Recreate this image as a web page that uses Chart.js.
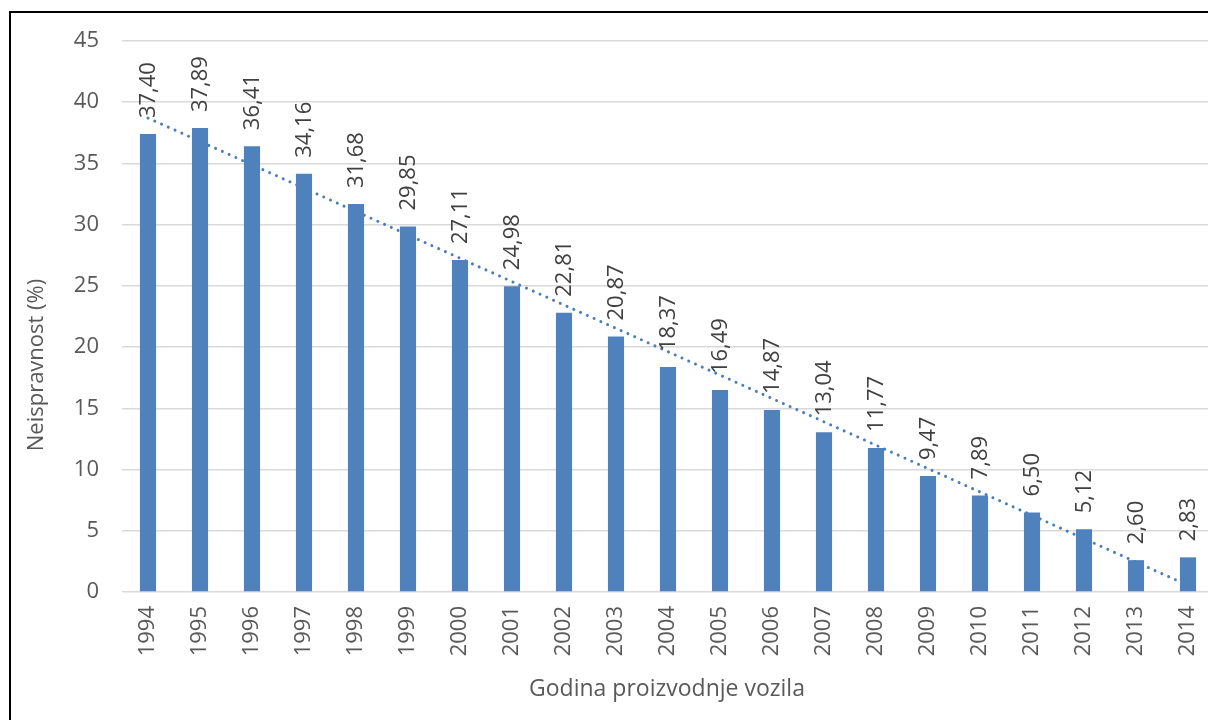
<!DOCTYPE html>
<html>
<head>
<meta charset="utf-8">
<script src="https://cdn.jsdelivr.net/npm/chart.js@4.4.1/dist/chart.umd.min.js"></script>
<style>
  html, body { margin: 0; padding: 0; background: #fff; overflow: hidden; width: 1208px; height: 720px; }
  #wrap { position: absolute; left: 0; top: 0; width: 1214px; height: 720px; }
  #frame { position: absolute; left: 9px; top: 11px; width: 1300px; height: 800px; border-left: 2px solid #000; border-top: 2px solid #000; pointer-events: none; }
</style>
</head>
<body>
<div id="wrap"><canvas id="c" width="1214" height="720"></canvas></div>
<div id="frame"></div>
<script>
const categories = ['1994','1995','1996','1997','1998','1999','2000','2001','2002','2003','2004','2005','2006','2007','2008','2009','2010','2011','2012','2013','2014'];
const defectRate = [37.40,37.89,36.41,34.16,31.68,29.85,27.11,24.98,22.81,20.87,18.37,16.49,14.87,13.04,11.77,9.47,7.89,6.50,5.12,2.60,2.83];
// linear trendline end values
const trendStart = 38.71;
const trendEnd = 0.54;
const trendData = categories.map((c, i) => i === 0 ? trendStart : (i === categories.length - 1 ? trendEnd : null));
const yTitle = 'Neispravnost (%)';
const xTitle = 'Godina proizvodnje vozila';

const FONT = "'Open Sans', 'DejaVu Sans', sans-serif";

const labelPlugin = {
  id: 'barLabels',
  afterDatasetsDraw(chart) {
    const meta = chart.getDatasetMeta(0);
    const ctx = chart.ctx;
    ctx.save();
    ctx.font = '22px ' + FONT;
    ctx.fillStyle = '#404040';
    ctx.textAlign = 'left';
    ctx.textBaseline = 'middle';
    meta.data.forEach((bar, i) => {
      const txt = defectRate[i].toFixed(2).replace('.', ',');
      ctx.save();
      ctx.translate(bar.x + 1, bar.y - 16);
      ctx.rotate(-Math.PI / 2);
      ctx.fillText(txt, 0, 0);
      ctx.restore();
    });
    // axis titles
    ctx.fillStyle = '#595959';
    ctx.textAlign = 'center';
    ctx.textBaseline = 'middle';
    ctx.font = '22px ' + FONT;
    ctx.save();
    ctx.translate(37, 365);
    ctx.rotate(-Math.PI / 2);
    ctx.fillText(yTitle, 0, 0);
    ctx.restore();
    ctx.font = '23px ' + FONT;
    ctx.fillText(xTitle, 667, 689);
    ctx.restore();
  }
};

new Chart(document.getElementById('c'), {
  data: {
    labels: categories,
    datasets: [
      {
        type: 'bar',
        data: defectRate,
        backgroundColor: '#4F81BD',
        barPercentage: 0.31,
        categoryPercentage: 1,
        order: 1
      },
      {
        type: 'line',
        data: trendData,
        spanGaps: true,
        borderColor: '#4A7EBB',
        borderWidth: 3,
        borderDash: [0.01, 7.4],
        borderCapStyle: 'round',
        pointRadius: 0,
        fill: false,
        tension: 0,
        order: 2
      }
    ]
  },
  options: {
    responsive: false,
    animation: false,
    devicePixelRatio: 1,
    layout: { padding: { left: 0, right: 0, top: 41, bottom: 0 } },
    plugins: { legend: { display: false }, tooltip: { enabled: false } },
    scales: {
      x: {
        type: 'category',
        offset: true,
        grid: { display: false, drawTicks: false },
        border: { display: false },
        ticks: {
          color: '#595959',
          font: { family: FONT, size: 22 },
          minRotation: 90,
          maxRotation: 90,
          padding: 14,
          autoSkip: false
        },
        afterFit(scale) { scale.height = 128; scale.paddingRight = 0; scale.paddingLeft = 0; }
      },
      y: {
        min: 0,
        max: 45,
        ticks: {
          stepSize: 5,
          color: '#595959',
          font: { family: FONT, size: 22 },
          padding: 23
        },
        grid: { color: '#D9D9D9', lineWidth: 1.5, drawTicks: false },
        border: { display: false },
        afterFit(scale) { scale.width = 122; scale.paddingTop = 0; scale.paddingBottom = 0; }
      }
    }
  },
  plugins: [labelPlugin]
});
</script>
</body>
</html>
